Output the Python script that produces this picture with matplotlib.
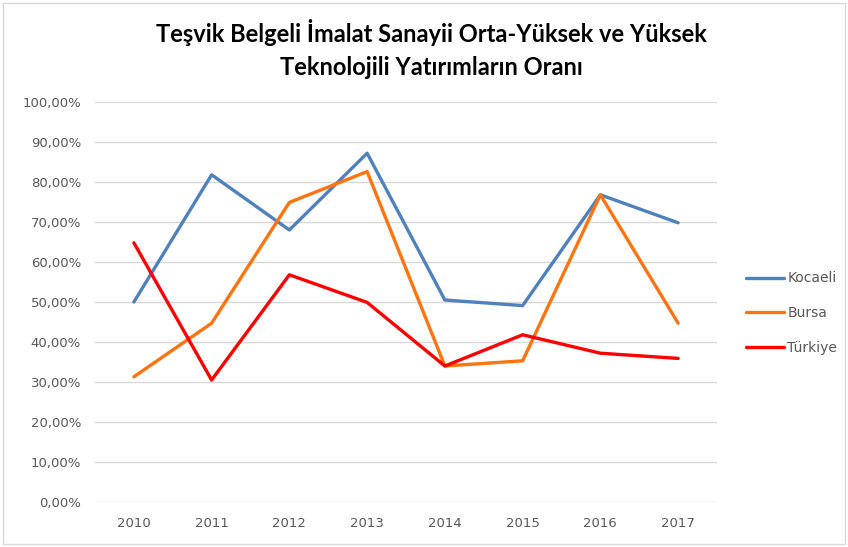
import matplotlib
matplotlib.use("Agg")
import matplotlib.pyplot as plt
from matplotlib.ticker import FuncFormatter, MultipleLocator
from matplotlib.patches import Rectangle

years = ["2010", "2011", "2012", "2013", "2014", "2015", "2016", "2017"]
kocaeli = [50.0, 81.8, 68.0, 87.2, 50.5, 49.1, 76.8, 69.8]
bursa = [31.3, 44.7, 74.9, 82.6, 34.0, 35.3, 76.8, 44.7]
turkiye = [64.8, 30.5, 56.8, 49.9, 34.0, 41.8, 37.2, 35.9]

title = "Teşvik Belgeli İmalat Sanayii Orta-Yüksek ve Yüksek\nTeknolojili Yatırımların Oranı"

fig = plt.figure(figsize=(8.48, 5.47), dpi=100)
ax = fig.add_axes([95/848, 45/547, 622/848, 400/547])

x = list(range(len(years)))
ax.plot(x, kocaeli, color="#4F81BD", lw=2.4, label="Kocaeli", solid_capstyle="round")
ax.plot(x, bursa, color="#FF7410", lw=2.4, label="Bursa", solid_capstyle="round")
ax.plot(x, turkiye, color="#FF0000", lw=2.4, label="Türkiye", solid_capstyle="round")

ax.set_xlim(-0.5, len(years) - 0.5)
ax.set_ylim(0, 100)
ax.yaxis.set_major_locator(MultipleLocator(10))
ax.yaxis.set_major_formatter(FuncFormatter(lambda v, p: f"{v:.2f}%".replace(".", ",")))
ax.set_xticks(x)
ax.set_xticklabels(years)
ax.grid(axis="y", color="#D9D9D9", lw=1)
ax.set_axisbelow(True)
for s in ax.spines.values():
    s.set_visible(False)
ax.tick_params(axis="both", length=0, colors="#595959", labelsize=9.5)
ax.tick_params(axis="y", pad=10)
ax.tick_params(axis="x", pad=11)

fig.text(431/848, 1 - 49/547, title, ha="center", va="center",
         fontsize=17, fontweight="bold", family="Lato", linespacing=1.55, color="#000000")

leg = ax.legend(loc="center left", bbox_to_anchor=(1.027, 0.472), frameon=False,
                fontsize=10, handlelength=2.7, handletextpad=0.25, labelspacing=1.5)
for t in leg.get_texts():
    t.set_color("#595959")

fig.patches.append(Rectangle((3/848, 3/547), 842/848, 541/547, transform=fig.transFigure,
                             fill=False, edgecolor="#D9D9D9", lw=1))

fig.savefig("out.png", dpi=100)
